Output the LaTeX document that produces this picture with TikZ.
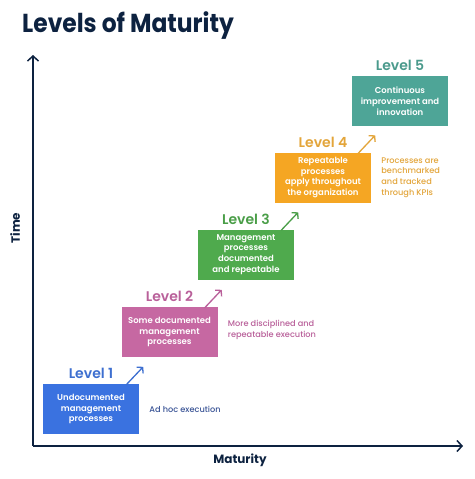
\documentclass[tikz,border=0pt]{standalone}
\usepackage{fontspec}
\setmainfont{Poppins}
\newfontfamily\psemi{Poppins SemiBold}
\newfontfamily\pmed{Poppins Medium}
\newfontfamily\ptitle[FakeStretch=0.9]{Poppins Bold}
\usetikzlibrary{arrows.meta,calc}
\definecolor{navy}{HTML}{0D2240}
\definecolor{lvA}{HTML}{3A72E0}
\definecolor{lvAt}{HTML}{3D6FD0}
\definecolor{lvAd}{HTML}{3A5496}
\definecolor{lvB}{HTML}{C668A2}
\definecolor{lvBt}{HTML}{B9609A}
\definecolor{lvC}{HTML}{4FAA4D}
\definecolor{lvCt}{HTML}{4A9E48}
\definecolor{lvD}{HTML}{F5A623}
\definecolor{lvDt}{HTML}{E3A53A}
\definecolor{lvE}{HTML}{4EA597}
\definecolor{lvEt}{HTML}{4A9A8C}
\tikzset{
  lvbox/.style={draw=none, minimum width=96pt, minimum height=50pt, inner sep=0pt,
    text=white, align=center, font=\psemi\fontsize{8.5}{10.8}\selectfont},
  lvlabel/.style={font=\psemi\fontsize{14}{14}\selectfont, anchor=base, inner sep=0pt},
  lvdesc/.style={font=\pmed\fontsize{8.2}{10.6}\selectfont, align=left, anchor=west, inner sep=0pt},
  axis/.style={navy, line width=1.5pt, -{Straight Barb[length=5pt,width=11pt,line width=1.5pt]}},
  stepar/.style={line width=1.3pt, -{Straight Barb[length=4pt,width=9pt,line width=1.3pt]}},
}
\begin{document}
\begin{tikzpicture}[x=1pt,y=-1pt]
\useasboundingbox (0,0) rectangle (474,479);
\fill[white] (0,0) rectangle (474,479);
% title
\node[anchor=base west, inner sep=0pt, text=navy, font=\ptitle\fontsize{26}{28}\selectfont] (title) at (22,32) {Levels of Maturity};
% axes
\coordinate (origin) at (33,446);
\coordinate (ytip) at (33,55);
\coordinate (xtip) at (463,446);
\draw[axis] (origin) -- (ytip);
\draw[axis] (origin) -- (xtip);
\node[rotate=90, text=navy, font=\bfseries\fontsize{12}{12}\selectfont] (time) at (15,228) {Time};
\node[text=navy, font=\bfseries\fontsize{12}{12}\selectfont] (mat) at (240,460) {Maturity};
% boxes
\node[lvbox, fill=lvA] (b1) at (91,409) {Undocumented\\management\\processes};
\node[lvbox, fill=lvB] (b2) at (169.5,332) {Some documented\\management\\processes};
\node[lvbox, fill=lvC] (b3) at (246,254.5) {Management\\processes\\documented\\and repeatable};
\node[lvbox, fill=lvD] (b4) at (323,177.5) {Repeatable\\processes\\apply throughout\\the organization};
\node[lvbox, fill=lvE] (b5) at (400,101) {Continuous\\improvement and\\innovation};
% labels
\node[lvlabel, text=lvAt] (l1) at ($(b1.north)+(0,-5)$) {Level 1};
\node[lvlabel, text=lvBt] (l2) at ($(b2.north)+(0,-5)$) {Level 2};
\node[lvlabel, text=lvCt] (l3) at ($(b3.north)+(0,-5)$) {Level 3};
\node[lvlabel, text=lvDt] (l4) at ($(b4.north)+(0,-5)$) {Level 4};
\node[lvlabel, text=lvEt] (l5) at ($(b5.north)+(0,-5)$) {Level 5};
% step arrows
\foreach \i/\c in {1/lvAt,2/lvBt,3/lvCt,4/lvDt}{
  \coordinate (s\i) at ($(b\i.north east)+(-13,1)$);
  \coordinate (e\i) at ($(b\i.north east)+(4,-17)$);
  \draw[stepar, \c] (s\i) -- (e\i);
}
% descriptions
\node[lvdesc, text=lvAd] (d1) at ($(b1.east)+(10,0)$) {Ad hoc execution};
\node[lvdesc, text=lvBt] (d2) at ($(b2.east)+(10,-2)$) {More disciplined and\\repeatable execution};
\node[lvdesc, text=lvDt] (d4) at ($(b4.east)+(10,0)$) {Processes are\\benchmarked\\and tracked\\through KPIs};
\end{tikzpicture}
\end{document}
